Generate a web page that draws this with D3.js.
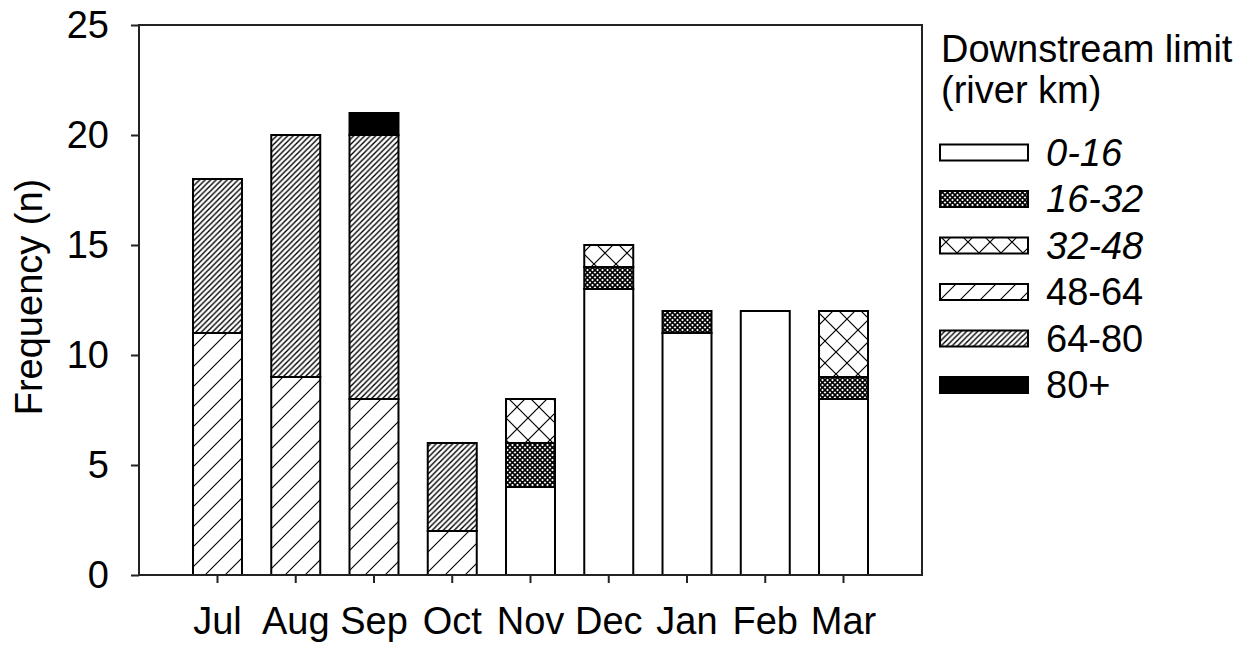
<!DOCTYPE html>
<html>
<head>
<meta charset="utf-8">
<script src="https://cdn.jsdelivr.net/npm/d3@7"></script>
<style>
  body { margin: 0; background: #fff; }
  text { font-family: Arial, "Liberation Sans", sans-serif; fill: #000; }
</style>
</head>
<body>
<svg id="chart"></svg>
<script>
// months on the x axis
const months = ["Jul", "Aug", "Sep", "Oct", "Nov", "Dec", "Jan", "Feb", "Mar"];
// downstream limit classes (river km), bottom of stack first
const bins = ["0-16", "16-32", "32-48", "48-64", "64-80", "80+"];
const italicBins = ["0-16", "16-32", "32-48"];

// counts per class, one value per month
const km0_16  = [0, 0, 0, 0, 4, 13, 11, 12, 8];
const km16_32 = [0, 0, 0, 0, 2, 1, 1, 0, 1];
const km32_48 = [0, 0, 0, 0, 2, 1, 0, 0, 3];
const km48_64 = [11, 9, 8, 2, 0, 0, 0, 0, 0];
const km64_80 = [7, 11, 12, 4, 0, 0, 0, 0, 0];
const km80    = [0, 0, 1, 0, 0, 0, 0, 0, 0];

const yTicks = [0, 5, 10, 15, 20, 25];

const series = [km0_16, km16_32, km32_48, km48_64, km64_80, km80];
const table = months.map((m, i) => {
  const row = { month: m };
  bins.forEach((b, j) => row[b] = series[j][i]);
  return row;
});

const W = 1250, H = 647;
const plotLeft = 139, plotRight = 922, plotTop = 25, plotBottom = 575;

const svg = d3.select("#chart").attr("width", W).attr("height", H);

// fill patterns
const defs = svg.append("defs");
function pattern(id, size, draw) {
  const p = defs.append("pattern")
    .attr("id", id)
    .attr("patternUnits", "userSpaceOnUse")
    .attr("width", size).attr("height", size);
  p.append("rect").attr("width", size).attr("height", size).attr("fill", "#fff");
  draw(p, size);
}
pattern("p16", 5, (p, s) => {
  p.append("path").attr("d", `M0,0L${s},${s}M${s},0L0,${s}`)
    .attr("stroke", "#000").attr("stroke-width", 1.6);
});
pattern("p32", 22, (p, s) => {
  p.append("path").attr("d", `M0,0L${s},${s}M${s},0L0,${s}`)
    .attr("stroke", "#000").attr("stroke-width", 1.2);
});
pattern("p48", 20, (p, s) => {
  p.append("path").attr("d", `M0,${s}L${s},0M${-s/2},${s/2}L${s/2},${-s/2}M${s/2},${s*1.5}L${s*1.5},${s/2}`)
    .attr("stroke", "#000").attr("stroke-width", 1.1);
});
pattern("p64", 5.5, (p, s) => {
  p.append("path").attr("d", `M0,${s}L${s},0M${-s/2},${s/2}L${s/2},${-s/2}M${s/2},${s*1.5}L${s*1.5},${s/2}`)
    .attr("stroke", "#000").attr("stroke-width", 1.4);
});

const fills = {
  "0-16": "#fff",
  "16-32": "url(#p16)",
  "32-48": "url(#p32)",
  "48-64": "url(#p48)",
  "64-80": "url(#p64)",
  "80+": "#000"
};

const x = d3.scaleBand()
  .domain(months)
  .range([plotLeft, plotRight])
  .paddingInner(0.374)
  .paddingOuter(0.69);

const y = d3.scaleLinear().domain([0, 25]).range([plotBottom, plotTop]);

const stacked = d3.stack().keys(bins)(table);

const g = svg.append("g");
stacked.forEach(layer => {
  g.selectAll(null)
    .data(layer.filter(d => d[1] - d[0] > 0))
    .enter().append("rect")
    .attr("x", d => x(d.data.month))
    .attr("width", x.bandwidth())
    .attr("y", d => y(d[1]))
    .attr("height", d => y(d[0]) - y(d[1]))
    .attr("fill", fills[layer.key])
    .attr("stroke", "#000")
    .attr("stroke-width", 2);
});

// frame
svg.append("rect")
  .attr("x", plotLeft).attr("y", plotTop)
  .attr("width", plotRight - plotLeft).attr("height", plotBottom - plotTop)
  .attr("fill", "none").attr("stroke", "#222").attr("stroke-width", 2);

// y axis
const yAxis = svg.append("g")
  .attr("transform", `translate(${plotLeft},0)`)
  .call(d3.axisLeft(y).tickValues(yTicks).tickSize(8).tickPadding(22));
yAxis.select(".domain").remove();
yAxis.selectAll("line").attr("stroke", "#222").attr("stroke-width", 2);
yAxis.selectAll("text").attr("font-size", 38).attr("font-family", "Arial, 'Liberation Sans', sans-serif").attr("fill", "#000");

// x axis
const xAxis = svg.append("g")
  .attr("transform", `translate(0,${plotBottom})`)
  .call(d3.axisBottom(x).tickSize(8).tickPadding(24));
xAxis.select(".domain").remove();
xAxis.selectAll("line").attr("stroke", "#222").attr("stroke-width", 2);
xAxis.selectAll("text").attr("font-size", 38).attr("font-family", "Arial, 'Liberation Sans', sans-serif").attr("fill", "#000");

// y title
svg.append("text")
  .attr("transform", `translate(42,297) rotate(-90)`)
  .attr("text-anchor", "middle")
  .attr("font-size", 38)
  .text("Frequency (n)");

// legend
svg.append("text").attr("x", 941).attr("y", 62).attr("font-size", 38).text("Downstream limit");
svg.append("text").attr("x", 941).attr("y", 103).attr("font-size", 38).text("(river km)");

const legend = svg.append("g");
bins.forEach((b, i) => {
  const cy = 152.5 + i * 46.5;
  legend.append("rect")
    .attr("x", 940).attr("y", cy - 8)
    .attr("width", 88).attr("height", 16)
    .attr("fill", fills[b])
    .attr("stroke", "#000").attr("stroke-width", 2);
  legend.append("text")
    .attr("x", 1046).attr("y", cy + 13)
    .attr("font-size", 38)
    .attr("font-style", italicBins.includes(b) ? "italic" : "normal")
    .text(b);
});
</script>
</body>
</html>
